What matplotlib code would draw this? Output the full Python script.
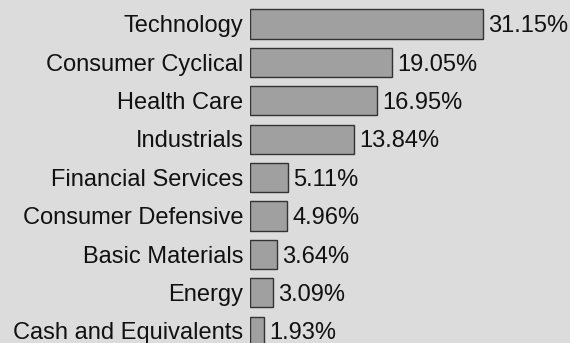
import matplotlib
matplotlib.use("Agg")
import matplotlib.pyplot as plt

sectors = [
    "Technology", "Consumer Cyclical", "Health Care", "Industrials",
    "Financial Services", "Consumer Defensive", "Basic Materials",
    "Energy", "Cash and Equivalents",
]
weights = [31.15, 19.05, 16.95, 13.84, 5.11, 4.96, 3.64, 3.09, 1.93]

bg = "#dcdcdc"
fig = plt.figure(figsize=(5.70, 3.43), dpi=100, facecolor=bg)
ax = fig.add_axes([250 / 570, 0, 320 / 570, 1])
ax.set_facecolor(bg)

pos = list(range(len(sectors)))
ax.barh(pos, weights, height=0.76, color="#a0a0a0", edgecolor="#333333", linewidth=1)

# labels sit a touch below the bar centre
dy = 0.06
for y, name, w in zip(pos, sectors, weights):
    ax.text(-0.9, y + dy, name, ha="right", va="center", fontsize=17,
            family="Liberation Sans", color="#111111")
    ax.text(w + 0.7, y + dy, f"{w:.2f}%", ha="left", va="center", fontsize=17,
            family="Liberation Sans", color="#111111")

ax.set_xlim(0, 320 / 7.48)
ax.set_ylim(8.31, -0.625)
ax.axis("off")

fig.savefig("out.png", dpi=100, facecolor=bg)
